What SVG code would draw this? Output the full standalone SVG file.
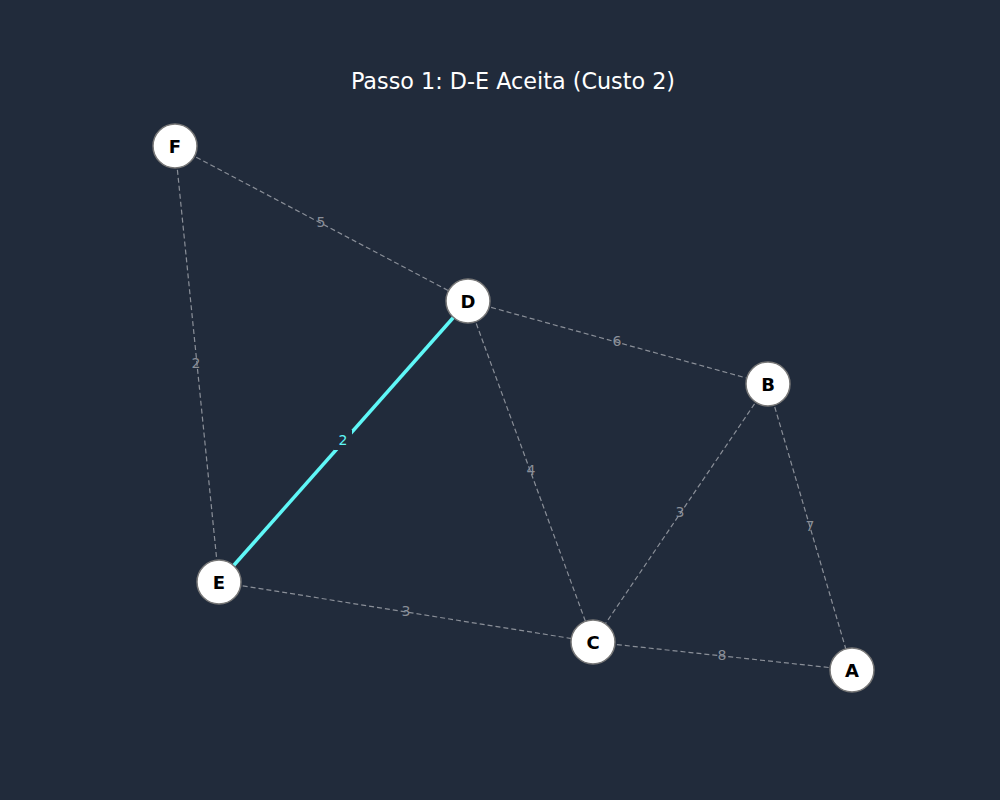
<svg xmlns="http://www.w3.org/2000/svg" width="1000" height="800" viewBox="0 0 1000 800">
<style>
.e{stroke:#8a8f98;stroke-width:1.2;stroke-dasharray:5,3;fill:none}
.h{stroke:#5ff7f7;stroke-width:3.5;fill:none}
.l{font-family:"DejaVu Sans",sans-serif;font-size:14px;fill:#8a8f98;text-anchor:middle;dominant-baseline:central}
.lh{font-family:"DejaVu Sans",sans-serif;font-size:14px;fill:#5ff7f7;text-anchor:middle;dominant-baseline:central}
.n circle{fill:#ffffff;stroke:#777777;stroke-width:1.5}
.n text{font-family:"DejaVu Sans",sans-serif;font-size:18px;font-weight:bold;fill:#000;text-anchor:middle;dominant-baseline:central}
</style>
<rect width="1000" height="800" fill="#212b3b"/>
<text x="513" y="81" font-family="DejaVu Sans,sans-serif" font-size="22.3" fill="#ffffff" text-anchor="middle" dominant-baseline="central">Passo 1: D-E Aceita (Custo 2)</text>
<g id="edges">
<line class="e" x1="175" y1="146" x2="468" y2="301"/>
<line class="e" x1="175" y1="146" x2="219" y2="582"/>
<line class="e" x1="468" y1="301" x2="768" y2="384"/>
<line class="e" x1="468" y1="301" x2="593" y2="642"/>
<line class="e" x1="768" y1="384" x2="593" y2="642"/>
<line class="e" x1="768" y1="384" x2="852" y2="670"/>
<line class="e" x1="219" y1="582" x2="593" y2="642"/>
<line class="e" x1="593" y1="642" x2="852" y2="670"/>
<line class="h" x1="468" y1="301" x2="219" y2="582"/>
<rect x="334" y="430" width="18" height="20" fill="#212b3b"/>
<text class="l" x="321" y="222">5</text>
<text class="l" x="196" y="363">2</text>
<text class="l" x="617" y="341">6</text>
<text class="l" x="531" y="470">4</text>
<text class="l" x="680" y="512">3</text>
<text class="l" x="810" y="526">7</text>
<text class="l" x="406" y="611">3</text>
<text class="l" x="722" y="655">8</text>
<text class="lh" x="343" y="440">2</text>
</g>
<g id="node-F" class="n"><circle cx="175" cy="146" r="22"/><text x="175" y="146">F</text></g>
<g id="node-D" class="n"><circle cx="468" cy="301" r="22"/><text x="468" y="301">D</text></g>
<g id="node-B" class="n"><circle cx="768" cy="384" r="22"/><text x="768" y="384">B</text></g>
<g id="node-E" class="n"><circle cx="219" cy="582" r="22"/><text x="219" y="582">E</text></g>
<g id="node-C" class="n"><circle cx="593" cy="642" r="22"/><text x="593" y="642">C</text></g>
<g id="node-A" class="n"><circle cx="852" cy="670" r="22"/><text x="852" y="670">A</text></g>
</svg>
